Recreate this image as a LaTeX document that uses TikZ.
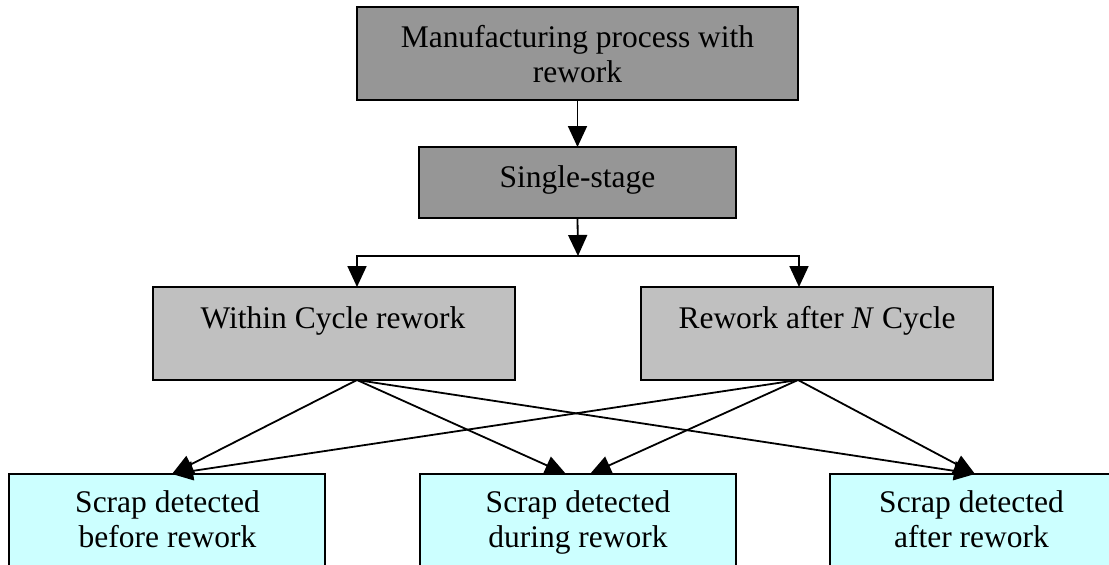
\documentclass[tikz,border=0pt]{standalone}
\usepackage{fontspec}
\setmainfont{Liberation Serif}
\usetikzlibrary{arrows.meta}
\definecolor{darkgr}{RGB}{150,150,150}
\definecolor{lightgr}{RGB}{192,192,192}
\definecolor{lcyan}{RGB}{204,255,255}
\begin{document}
\begin{tikzpicture}[x=1pt,y=-1pt,
  boxbase/.style={draw=black, line width=2pt, inner sep=0pt, outer sep=0pt, rectangle},
  dbox/.style={boxbase, fill=darkgr},
  lbox/.style={boxbase, fill=lightgr},
  cbox/.style={boxbase, fill=lcyan},
  txt/.style={inner sep=0pt, outer sep=0pt, anchor=base, font=\fontsize{31.5}{35}\selectfont},
  arr/.style={line width=1.8pt, -{Triangle[length=21pt,width=19pt]}},
  ln/.style={line width=1.8pt}]
\useasboundingbox (0,0) rectangle (1109,565);
\fill[white] (0,0) rectangle (1109,565);
\begin{scope}
\clip (0,0) rectangle (1109,565);
% boxes
\node[dbox, minimum width=441pt, minimum height=93pt] (top) at (577.5,53.5) {};
\node[dbox, minimum width=317pt, minimum height=71pt] (single) at (577.5,182.5) {};
\node[lbox, minimum width=362pt, minimum height=93pt] (wc) at (334,333.5) {};
\node[lbox, minimum width=352pt, minimum height=93pt] (ra) at (817,333.5) {};
\node[cbox, minimum width=316pt, minimum height=140pt] (b1) at (167,544) {};
\node[cbox, minimum width=316pt, minimum height=140pt] (b2) at (578,544) {};
\node[cbox, minimum width=283pt, minimum height=140pt] (b3) at (971.5,544) {};
% texts
\node[txt] (toptxt1) at (577.5,47) {Manufacturing process with};
\node[txt] (toptxt2) at (577.5,82) {rework};
\node[txt] (singletxt) at (577.5,187) {Single-stage};
\node[txt] (wctxt) at (333,328) {Within Cycle rework};
\node[txt] (ratxt) at (817,328) {Rework after \textit{N} Cycle};
\node[txt] (b1txt1) at (167.5,512) {Scrap detected};
\node[txt] (b1txt2) at (167.5,547) {before rework};
\node[txt] (b2txt1) at (578,512) {Scrap detected};
\node[txt] (b2txt2) at (578,547) {during rework};
\node[txt] (b3txt1) at (971.5,512) {Scrap detected};
\node[txt] (b3txt2) at (971.5,547) {after rework};
% connector coordinates
\coordinate (split) at (578,256);
\coordinate (wcin) at (357,287);
\coordinate (rain) at (799,287);
\coordinate (wcout) at (357,380);
\coordinate (raout) at (798,380);
\coordinate (b1in) at (172,474);
\coordinate (b2ina) at (566,474);
\coordinate (b2inb) at (590,474);
\coordinate (b3in) at (975,474);
% connectors
\draw[arr] (top.south) -- (single.north);
\draw[arr] (single.south) -- (split);
\draw[arr] (split) -| (wcin);
\draw[arr] (split) -| (rain);
\draw[arr] (wcout) -- (b1in);
\draw[arr] (wcout) -- (b2ina);
\draw[arr] (wcout) -- (b3in);
\draw[arr] (raout) -- (b1in);
\draw[arr] (raout) -- (b2inb);
\draw[arr] (raout) -- (b3in);
\end{scope}
\end{tikzpicture}
\end{document}
